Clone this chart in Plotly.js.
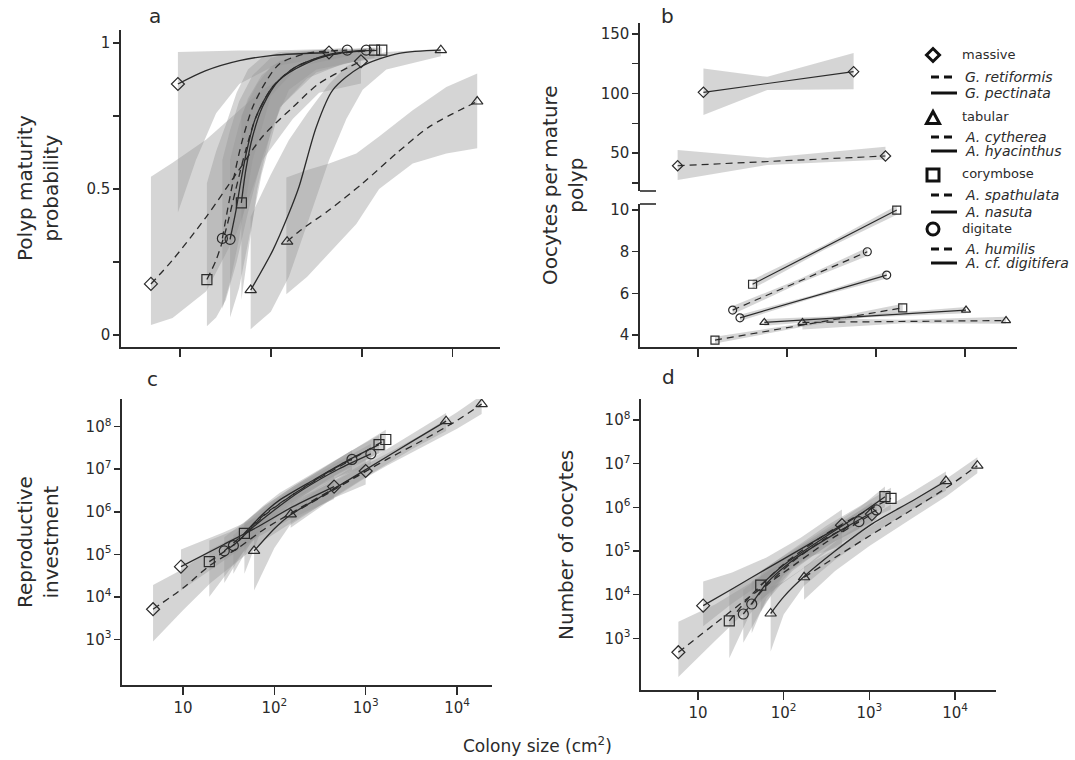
<!DOCTYPE html>
<html><head><meta charset="utf-8">
<script src="https://cdn.plot.ly/plotly-3.0.1.min.js"></script>
<style>html,body{margin:0;padding:0;background:#fff}#chart{width:1075px;height:760px}</style>
</head><body><div id="chart"></div>
<script>
// ---------- categories ----------
const growthForms = ['massive', 'tabular', 'corymbose', 'digitate'];
const speciesNames = ['G. retiformis', 'G. pectinata', 'A. cytherea', 'A. hyacinthus',
                      'A. spathulata', 'A. nasuta', 'A. humilis', 'A. cf. digitifera'];
const speciesForm = [0, 0, 1, 1, 2, 2, 3, 3];
const speciesDashed = [true, false, true, false, true, false, true, false];

// ---------- panel a : polyp maturity probability ----------
const aX_GR = [4.8, 8.3, 19.5, 42, 81, 174, 340, 980];
const aY_GR = [0.175, 0.257, 0.405, 0.554, 0.68, 0.78, 0.862, 0.938];
const aBX_GR = [4.8, 8.3, 19.5, 42, 81, 174, 340, 980];
const aLo_GR = [0.034, 0.058, 0.15, 0.35, 0.6, 0.74, 0.83, 0.862];
const aHi_GR = [0.542, 0.59, 0.67, 0.76, 0.84, 0.9, 0.945, 0.976];

const aX_GP = [9.5, 19, 45, 105, 436];
const aY_GP = [0.86, 0.905, 0.94, 0.958, 0.968];
const aBX_GP = [9.5, 15, 25, 45, 105, 436];
const aLo_GP = [0.42, 0.60, 0.76, 0.86, 0.92, 0.953];
const aHi_GP = [0.97, 0.972, 0.975, 0.975, 0.975, 0.98];

const aX_AC = [151, 204, 437, 1023, 2400, 5500, 18600];
const aY_AC = [0.32, 0.355, 0.428, 0.52, 0.622, 0.713, 0.80];
const aBX_AC = [148, 251, 437, 871, 1550, 3630, 8510, 18600];
const aLo_AC = [0.14, 0.2, 0.28, 0.38, 0.5, 0.588, 0.622, 0.64];
const aHi_AC = [0.54, 0.565, 0.588, 0.622, 0.68, 0.77, 0.85, 0.896];

const aX_AH = [60, 105, 158, 204, 316, 479, 977, 2570, 7400];
const aY_AH = [0.154, 0.29, 0.417, 0.508, 0.713, 0.839, 0.919, 0.965, 0.976];
const aBX_AH = [60, 100, 158, 251, 437, 676, 1023, 1862, 7400];
const aLo_AH = [0.02, 0.08, 0.2, 0.38, 0.6, 0.74, 0.84, 0.91, 0.955];
const aHi_AH = [0.405, 0.55, 0.668, 0.76, 0.86, 0.92, 0.95, 0.97, 0.98];

const aX_AS = [19.8, 25, 32, 41, 53, 69, 105, 189, 437, 1660];
const aY_AS = [0.19, 0.257, 0.36, 0.497, 0.634, 0.748, 0.851, 0.919, 0.959, 0.976];
const aBX_AS = [19.8, 25, 32, 42, 56, 79, 126, 251, 631, 1660];
const aLo_AS = [0.03, 0.06, 0.12, 0.25, 0.42, 0.6, 0.78, 0.88, 0.93, 0.95];
const aHi_AS = [0.52, 0.63, 0.72, 0.83, 0.91, 0.95, 0.97, 0.975, 0.98, 0.985];

const aX_AN = [47.4, 53, 63, 81, 123, 243, 500, 1380];
const aY_AN = [0.453, 0.565, 0.68, 0.782, 0.873, 0.93, 0.962, 0.976];
const aBX_AN = [47.4, 56, 71, 100, 158, 316, 1380];
const aLo_AN = [0.12, 0.28, 0.5, 0.7, 0.84, 0.91, 0.95];
const aHi_AN = [0.75, 0.8, 0.86, 0.92, 0.95, 0.97, 0.985];

const aX_AHu = [29.3, 33.9, 39.8, 47.9, 63, 89, 126, 251, 692];
const aY_AHu = [0.331, 0.44, 0.55, 0.66, 0.78, 0.87, 0.93, 0.965, 0.976];
const aBX_AHu = [29.3, 35.5, 44.7, 63, 100, 200, 692];
const aLo_AHu = [0.09, 0.18, 0.33, 0.6, 0.82, 0.92, 0.955];
const aHi_AHu = [0.6, 0.7, 0.8, 0.89, 0.95, 0.97, 0.985];

const aX_AD = [35.6, 41.4, 47, 55.6, 68.7, 105, 189, 450, 1120];
const aY_AD = [0.328, 0.428, 0.531, 0.645, 0.748, 0.851, 0.919, 0.962, 0.976];
const aBX_AD = [35.6, 44.7, 56, 79, 126, 316, 1120];
const aLo_AD = [0.06, 0.16, 0.32, 0.55, 0.78, 0.9, 0.95];
const aHi_AD = [0.6, 0.72, 0.81, 0.89, 0.94, 0.97, 0.98];

// ---------- panel b : oocytes per mature polyp ----------
const bX_GR = [5.9, 60, 1276];   const bY_GR = [39.3, 42.8, 47.5];
const bLo_GR = [27.3, 40, 44.5]; const bHi_GR = [52.5, 46, 55.3];
const bX_GP = [11.5, 60, 560];   const bY_GP = [101, 108.3, 118.3];
const bLo_GP = [82, 103, 103.5]; const bHi_GP = [121, 114, 134];
const bX_AC = [149, 2070, 28900]; const bY_AC = [4.61, 4.655, 4.7];
const bLo_AC = [4.27, 4.57, 4.55]; const bHi_AC = [4.82, 4.74, 4.88];
const bX_AH = [55.6, 755, 10260]; const bY_AH = [4.61, 4.905, 5.2];
const bLo_AH = [4.45, 4.84, 5.05]; const bHi_AH = [4.77, 4.97, 5.35];
const bX_AS = [15.5, 180, 1995];  const bY_AS = [3.76, 4.54, 5.31];
const bLo_AS = [3.6, 4.46, 5.12]; const bHi_AS = [3.92, 4.62, 5.5];
const bX_AN = [41, 263, 1710];    const bY_AN = [6.44, 8.21, 10.0];
const bLo_AN = [6.22, 8.1, 9.78]; const bHi_AN = [6.66, 8.32, 10.22];
const bX_AHu = [24.5, 140, 798];  const bY_AHu = [5.2, 6.6, 8.0];
const bLo_AHu = [5.0, 6.5, 7.8];  const bHi_AHu = [5.4, 6.7, 8.2];
const bX_AD = [29.6, 198, 1318];  const bY_AD = [4.83, 5.855, 6.88];
const bLo_AD = [4.68, 5.78, 6.72]; const bHi_AD = [4.98, 5.93, 7.04];

// ---------- panel c : reproductive investment ----------
const cX_GR = [4.7, 10, 20, 40, 79, 200, 447, 1000];
const cY_GR = [5.1e3, 1.6e4, 5.6e4, 1.4e5, 4.0e5, 1.3e6, 3.5e6, 9.1e6];
const cLo_GR = [8.9e2, 4.8e3, 2.1e4, 6.9e4, 2.2e5, 7.9e5, 2.1e6, 4.4e6];
const cHi_GR = [1.9e4, 4.5e4, 1.3e5, 2.8e5, 6.9e5, 2.1e6, 6.0e6, 1.8e7];
const cX_GP = [9.5, 28, 63, 158, 451];
const cY_GP = [5.1e4, 1.7e5, 4.2e5, 1.3e6, 3.9e6];
const cLo_GP = [1.4e4, 7.1e4, 2.4e5, 7.1e5, 2.0e6];
const cHi_GP = [1.3e5, 3.3e5, 7.2e5, 2.1e6, 7.1e6];
const cX_AC = [151, 398, 1000, 1700, 3980, 10000, 18600];
const cY_AC = [8.7e5, 2.8e6, 8.9e6, 1.7e7, 4.5e7, 1.4e8, 3.4e8];
const cLo_AC = [4.2e5, 1.8e6, 6.3e6, 1.2e7, 3.2e7, 8.9e7, 2.0e8];
const cHi_AC = [1.7e6, 4.5e6, 1.3e7, 2.3e7, 6.3e7, 2.2e8, 5.5e8];
const cX_AH = [60, 100, 148, 316, 1000, 3160, 7590];
const cY_AH = [1.2e5, 4.0e5, 8.3e5, 2.2e6, 9.8e6, 4.4e7, 1.35e8];
const cLo_AH = [1.4e4, 1.4e5, 4.8e5, 1.4e6, 6.6e6, 2.9e7, 7.9e7];
const cHi_AH = [2.4e5, 7.1e5, 1.3e6, 3.5e6, 1.45e7, 6.6e7, 2.1e8];
const cX_AS = [19.4, 40, 76, 158, 398, 794, 1660];
const cY_AS = [6.7e4, 2.0e5, 7.9e5, 2.5e6, 8.9e6, 2.0e7, 5.0e7];
const cLo_AS = [1.0e4, 7.9e4, 4.0e5, 1.6e6, 6.0e6, 1.26e7, 2.8e7];
const cHi_AS = [2.1e5, 4.0e5, 1.3e6, 3.8e6, 1.3e7, 3.2e7, 8.5e7];
const cX_AN = [47, 76, 115, 269, 631, 1400];
const cY_AN = [3.1e5, 9.1e5, 1.9e6, 5.6e6, 1.6e7, 3.8e7];
const cLo_AN = [3.5e4, 5.0e5, 1.2e6, 3.8e6, 1.05e7, 2.4e7];
const cHi_AN = [5.6e5, 1.4e6, 2.8e6, 8.3e6, 2.4e7, 6.3e7];
const cX_AHu = [28.3, 50, 79, 158, 316, 708];
const cY_AHu = [1.2e5, 3.5e5, 8.9e5, 2.5e6, 6.3e6, 1.7e7];
const cLo_AHu = [2.1e4, 1.6e5, 5.2e5, 1.7e6, 4.2e6, 9.5e6];
const cHi_AHu = [2.5e5, 6.3e5, 1.4e6, 3.8e6, 9.5e6, 2.8e7];
const cX_AD = [35.6, 56, 100, 200, 501, 1140];
const cY_AD = [1.6e5, 4.0e5, 1.1e6, 3.2e6, 1.0e7, 2.3e7];
const cLo_AD = [3.5e4, 2.0e5, 7.1e5, 2.1e6, 6.6e6, 1.3e7];
const cHi_AD = [2.8e5, 6.6e5, 1.8e6, 4.8e6, 1.5e7, 4.0e7];

// ---------- panel d : number of oocytes ----------
const dX_GR = [5.9, 16, 40, 100, 316, 1070];
const dY_GR = [480, 2.2e3, 8.9e3, 3.2e4, 1.6e5, 7.0e5];
const dLo_GR = [130, 890, 5.0e3, 1.9e4, 9.5e4, 4.0e5];
const dHi_GR = [2.4e3, 6.0e3, 1.8e4, 5.6e4, 2.6e5, 1.3e6];
const dX_GP = [11.5, 25, 63, 158, 479];
const dY_GP = [5.6e3, 1.35e4, 3.9e4, 1.1e5, 3.9e5];
const dLo_GP = [1.9e3, 6.3e3, 2.2e4, 6.3e4, 1.3e5];
const dHi_GP = [2.0e4, 3.2e4, 7.1e4, 2.0e5, 8.9e5];
const dX_AC = [173, 398, 1000, 3160, 7940, 18200];
const dY_AC = [2.5e4, 7.1e4, 2.2e5, 8.9e5, 2.8e6, 9.0e6];
const dLo_AC = [7.6e3, 3.5e4, 1.3e5, 5.6e5, 1.8e6, 6.0e6];
const dHi_AC = [4.4e4, 1.1e5, 3.5e5, 1.4e6, 4.5e6, 1.4e7];
const dX_AH = [70.5, 100, 173, 398, 1100, 3160, 7830];
const dY_AH = [3.7e3, 8.9e3, 2.6e4, 1.0e5, 4.3e5, 1.4e6, 4.0e6];
const dLo_AH = [500, 3.5e3, 1.6e4, 6.3e4, 2.5e5, 8.9e5, 2.4e6];
const dHi_AH = [1.5e4, 2.0e4, 4.2e4, 1.6e5, 6.6e5, 2.2e6, 6.6e6];
const dX_AS = [23.2, 40, 100, 316, 794, 1790];
const dY_AS = [2.5e3, 8.9e3, 5.0e4, 2.5e5, 7.1e5, 1.6e6];
const dLo_AS = [350, 3.5e3, 2.8e4, 1.7e5, 4.5e5, 8.9e5];
const dHi_AS = [1.3e4, 2.2e4, 7.9e4, 3.8e5, 1.1e6, 2.8e6];
const dX_AN = [54, 100, 316, 794, 1520];
const dY_AN = [1.66e4, 4.8e4, 2.2e5, 7.1e5, 1.75e6];
const dLo_AN = [4.0e3, 2.8e4, 1.5e5, 4.8e5, 1.0e6];
const dHi_AN = [3.5e4, 7.6e4, 3.3e5, 1.05e6, 3.0e6];
const dX_AHu = [33.8, 63, 126, 316, 755];
const dY_AHu = [3.6e3, 1.6e4, 5.6e4, 2.0e5, 4.7e5];
const dLo_AHu = [790, 7.1e3, 3.5e4, 1.3e5, 3.2e5];
const dHi_AHu = [1.3e4, 3.2e4, 8.9e4, 3.0e5, 7.1e5];
const dX_AD = [42.4, 63, 126, 398, 1210];
const dY_AD = [6.1e3, 1.8e4, 6.0e4, 2.5e5, 8.7e5];
const dLo_AD = [1.3e3, 8.3e3, 3.8e4, 1.7e5, 5.2e5];
const dHi_AD = [2.0e4, 3.5e4, 9.5e4, 3.8e5, 1.4e6];

// ---------- ticks ----------
const sizeTickVals = [10, 100, 1000, 10000];
const sizeTickText = ['10', '10<sup>2</sup>', '10<sup>3</sup>', '10<sup>4</sup>'];
const logYTickVals = [1e3, 1e4, 1e5, 1e6, 1e7, 1e8];
const logYTickText = ['10<sup>3</sup>', '10<sup>4</sup>', '10<sup>5</sup>', '10<sup>6</sup>', '10<sup>7</sup>', '10<sup>8</sup>'];
const probTickVals = [0, 0.5, 1];
const probTickText = ['0', '0.5', '1'];
const probMinorVals = [0.25, 0.75];
const oocTopTickVals = [50, 100, 150];
const oocTopMinorVals = [25, 75, 125];
const oocLowTickVals = [4, 6, 8, 10];

// ---------- styles ----------
const FONT = 'DejaVu Sans, Verdana, sans-serif';
const INK = '#2b2b2b';
const BAND = 'rgba(150,150,150,0.40)';
const DASH = '7px,5px';
const SYMBOLS = ['diamond-open', 'triangle-up-open', 'square-open', 'circle-open'];
const W = 1075, H = 760;
const X = px => px / W;
const Y = py => 1 - py / H;

function set(x, y, bx, lo, hi, ya) { return {x, y, bx, lo, hi, ya}; }

function panelTraces(xa, yaDefault, sets, opt) {
  const out = [];
  sets.forEach(s => {
    out.push({type: 'scatter', mode: 'lines', xaxis: xa, yaxis: s.ya || yaDefault,
      x: s.bx.concat(s.bx.slice().reverse()), y: s.hi.concat(s.lo.slice().reverse()),
      fill: 'toself', fillcolor: BAND, line: {width: 0, color: 'rgba(0,0,0,0)'},
      hoverinfo: 'skip', showlegend: false});
  });
  sets.forEach((s, i) => {
    out.push({type: 'scatter', mode: 'lines', xaxis: xa, yaxis: s.ya || yaDefault,
      x: s.x, y: s.y, name: speciesNames[i],
      line: {color: INK, width: opt.lw, dash: speciesDashed[i] ? DASH : 'solid',
             shape: opt.shape, smoothing: opt.smooth},
      hoverinfo: 'skip', showlegend: false});
  });
  sets.forEach((s, i) => {
    const n = s.x.length - 1;
    out.push({type: 'scatter', mode: 'markers', xaxis: xa, yaxis: s.ya || yaDefault,
      x: [s.x[0], s.x[n]], y: [s.y[0], s.y[n]],
      marker: {symbol: SYMBOLS[speciesForm[i]], size: opt.ms, color: INK, line: {width: 1.2, color: INK}},
      hoverinfo: 'skip', showlegend: false});
  });
  return out;
}

const traces = [].concat(
  panelTraces('x', 'y', [
    set(aX_GR, aY_GR, aBX_GR, aLo_GR, aHi_GR), set(aX_GP, aY_GP, aBX_GP, aLo_GP, aHi_GP),
    set(aX_AC, aY_AC, aBX_AC, aLo_AC, aHi_AC), set(aX_AH, aY_AH, aBX_AH, aLo_AH, aHi_AH),
    set(aX_AS, aY_AS, aBX_AS, aLo_AS, aHi_AS), set(aX_AN, aY_AN, aBX_AN, aLo_AN, aHi_AN),
    set(aX_AHu, aY_AHu, aBX_AHu, aLo_AHu, aHi_AHu), set(aX_AD, aY_AD, aBX_AD, aLo_AD, aHi_AD)
  ], {lw: 1.3, shape: 'spline', smooth: 0.8, ms: 10}),
  panelTraces('x2', 'y2', [
    set(bX_GR, bY_GR, bX_GR, bLo_GR, bHi_GR, 'y5'), set(bX_GP, bY_GP, bX_GP, bLo_GP, bHi_GP, 'y5'),
    set(bX_AC, bY_AC, bX_AC, bLo_AC, bHi_AC), set(bX_AH, bY_AH, bX_AH, bLo_AH, bHi_AH),
    set(bX_AS, bY_AS, bX_AS, bLo_AS, bHi_AS), set(bX_AN, bY_AN, bX_AN, bLo_AN, bHi_AN),
    set(bX_AHu, bY_AHu, bX_AHu, bLo_AHu, bHi_AHu), set(bX_AD, bY_AD, bX_AD, bLo_AD, bHi_AD)
  ], {lw: 1.2, shape: 'linear', smooth: 0, ms: 8}),
  panelTraces('x3', 'y3', [
    set(cX_GR, cY_GR, cX_GR, cLo_GR, cHi_GR), set(cX_GP, cY_GP, cX_GP, cLo_GP, cHi_GP),
    set(cX_AC, cY_AC, cX_AC, cLo_AC, cHi_AC), set(cX_AH, cY_AH, cX_AH, cLo_AH, cHi_AH),
    set(cX_AS, cY_AS, cX_AS, cLo_AS, cHi_AS), set(cX_AN, cY_AN, cX_AN, cLo_AN, cHi_AN),
    set(cX_AHu, cY_AHu, cX_AHu, cLo_AHu, cHi_AHu), set(cX_AD, cY_AD, cX_AD, cLo_AD, cHi_AD)
  ], {lw: 1.3, shape: 'spline', smooth: 0.7, ms: 10}),
  panelTraces('x4', 'y4', [
    set(dX_GR, dY_GR, dX_GR, dLo_GR, dHi_GR), set(dX_GP, dY_GP, dX_GP, dLo_GP, dHi_GP),
    set(dX_AC, dY_AC, dX_AC, dLo_AC, dHi_AC), set(dX_AH, dY_AH, dX_AH, dLo_AH, dHi_AH),
    set(dX_AS, dY_AS, dX_AS, dLo_AS, dHi_AS), set(dX_AN, dY_AN, dX_AN, dLo_AN, dHi_AN),
    set(dX_AHu, dY_AHu, dX_AHu, dLo_AHu, dHi_AHu), set(dX_AD, dY_AD, dX_AD, dLo_AD, dHi_AD)
  ], {lw: 1.3, shape: 'spline', smooth: 0.7, ms: 10})
);

const axisBase = {showline: true, linecolor: INK, linewidth: 1.6, ticks: 'outside',
  tickwidth: 1.5, tickcolor: INK, showgrid: false, zeroline: false, fixedrange: true,
  tickfont: {family: FONT, size: 15, color: INK}};
const minorTicks = vals => ({tickmode: 'array', tickvals: vals, ticks: 'outside', ticklen: 6,
  tickwidth: 1.5, tickcolor: INK, showgrid: false});

const layout = {
  width: W, height: H, autosize: false,
  margin: {l: 0, r: 0, t: 0, b: 0, pad: 0},
  paper_bgcolor: '#fff', plot_bgcolor: 'rgba(0,0,0,0)',
  showlegend: false,
  font: {family: FONT, color: INK},
  xaxis: Object.assign({}, axisBase, {domain: [X(121), X(500)], anchor: 'y', type: 'log',
    range: [0.352, 4.52], tickmode: 'array', tickvals: sizeTickVals, showticklabels: false, ticklen: 8}),
  yaxis: Object.assign({}, axisBase, {domain: [Y(347), Y(30)], anchor: 'x',
    range: [-0.041, 1.045], tickmode: 'array', tickvals: probTickVals, ticktext: probTickText, ticklen: 6,
    minor: minorTicks(probMinorVals)}),
  xaxis2: Object.assign({}, axisBase, {domain: [X(640), X(1017)], anchor: 'y2', type: 'log',
    range: [0.348, 4.584], tickmode: 'array', tickvals: sizeTickVals, showticklabels: false, ticklen: 8}),
  yaxis2: Object.assign({}, axisBase, {domain: [Y(347), Y(204)], anchor: 'x2',
    range: [3.43, 10.29], tickmode: 'array', tickvals: oocLowTickVals, ticklen: 6}),
  yaxis5: Object.assign({}, axisBase, {domain: [Y(191), Y(23)], anchor: 'x2',
    range: [18.1, 159.2], tickmode: 'array', tickvals: oocTopTickVals, ticklen: 6,
    minor: minorTicks(oocTopMinorVals)}),
  xaxis3: Object.assign({}, axisBase, {domain: [X(122), X(492)], anchor: 'y3', type: 'log',
    range: [0.332, 4.383], tickmode: 'array', tickvals: sizeTickVals, ticktext: sizeTickText, ticklen: 8}),
  yaxis3: Object.assign({}, axisBase, {domain: [Y(685), Y(399)], anchor: 'x3', type: 'log',
    range: [1.925, 8.652], tickmode: 'array', tickvals: logYTickVals, ticktext: logYTickText, ticklen: 6}),
  xaxis4: Object.assign({}, axisBase, {domain: [X(641), X(996)], anchor: 'y4', type: 'log',
    range: [0.335, 4.478], tickmode: 'array', tickvals: sizeTickVals, ticktext: sizeTickText, ticklen: 8}),
  yaxis4: Object.assign({}, axisBase, {domain: [Y(690), Y(399)], anchor: 'x4', type: 'log',
    range: [1.816, 8.481], tickmode: 'array', tickvals: logYTickVals, ticktext: logYTickText, ticklen: 6}),
  annotations: [],
  shapes: []
};

function note(text, px, py, size, extra) {
  layout.annotations.push(Object.assign({text, xref: 'paper', yref: 'paper', x: X(px), y: Y(py),
    showarrow: false, xanchor: 'center', yanchor: 'middle',
    font: {family: FONT, size, color: INK}}, extra || {}));
}

// panel letters
note('a', 155, 16, 20);
note('b', 667, 16, 20);
note('c', 152, 379, 20);
note('d', 668, 377, 20);
// axis titles
note('Polyp maturity<br>probability', 38, 188, 20, {textangle: -90});
note('Oocytes per mature<br>polyp', 563, 185, 20, {textangle: -90});
note('Reproductive<br>investment', 38, 542, 20, {textangle: -90});
note('Number of oocytes', 566, 545, 20, {textangle: -90});
note('Colony size (cm<sup>2</sup>)', 537, 745, 17);

// broken-axis caps for panel b
layout.shapes.push({type: 'line', xref: 'paper', yref: 'paper', x0: X(640), x1: X(656), y0: Y(191), y1: Y(191), line: {color: INK, width: 1.6}});
layout.shapes.push({type: 'line', xref: 'paper', yref: 'paper', x0: X(640), x1: X(656), y0: Y(204), y1: Y(204), line: {color: INK, width: 1.6}});

// ---------- custom legend ----------
const legGroupY = [55, 118, 175, 229];
const legSpeciesY = [77, 93, 137, 151, 195, 212, 249, 263];
const symX = 933, r = 6.5;
function pathOf(pts) { return 'M' + pts.map(p => X(p[0]) + ',' + Y(p[1])).join('L') + 'Z'; }
growthForms.forEach((g, k) => {
  const cy = legGroupY[k];
  const lineStyle = {color: '#111', width: 3};
  if (k === 0) layout.shapes.push({type: 'path', xref: 'paper', yref: 'paper', line: lineStyle,
    path: pathOf([[symX - r, cy], [symX, cy - r], [symX + r, cy], [symX, cy + r]])});
  if (k === 1) layout.shapes.push({type: 'path', xref: 'paper', yref: 'paper', line: lineStyle,
    path: pathOf([[symX - r, cy + r - 1], [symX, cy - r], [symX + r, cy + r - 1]])});
  if (k === 2) layout.shapes.push({type: 'rect', xref: 'paper', yref: 'paper', line: lineStyle,
    x0: X(symX - r + 0.5), x1: X(symX + r - 0.5), y0: Y(cy + r - 0.5), y1: Y(cy - r + 0.5)});
  if (k === 3) layout.shapes.push({type: 'circle', xref: 'paper', yref: 'paper', line: lineStyle,
    x0: X(symX - r + 0.5), x1: X(symX + r - 0.5), y0: Y(cy + r - 0.5), y1: Y(cy - r + 0.5)});
  note(g, 960, cy - 1, 13, {xanchor: 'left'});
});
speciesNames.forEach((s, i) => {
  const cy = legSpeciesY[i];
  layout.shapes.push({type: 'line', xref: 'paper', yref: 'paper', x0: X(931), x1: X(957),
    y0: Y(cy), y1: Y(cy), line: {color: '#111', width: 3, dash: speciesDashed[i] ? '8px,5px' : 'solid'}});
  note('<i>' + s + '</i>', 963, cy, 14, {xanchor: 'left'});
});

Plotly.newPlot('chart', traces, layout, {staticPlot: true, displayModeBar: false});
</script></body></html>
